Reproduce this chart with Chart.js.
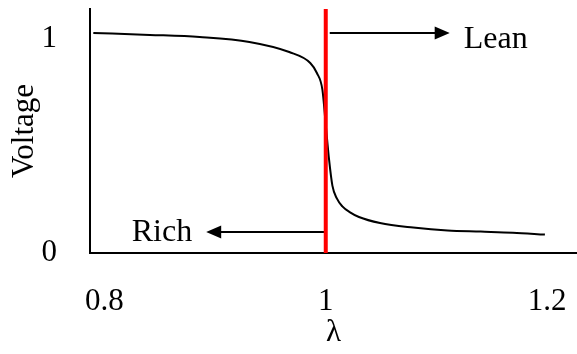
<!DOCTYPE html>
<html>
<head>
<meta charset="utf-8">
<script src="https://cdn.jsdelivr.net/npm/chart.js@4.4.1/dist/chart.umd.min.js"></script>
<style>
  html, body { margin: 0; padding: 0; background: #fff; }
  #wrap { width: 577px; height: 354px; }
</style>
</head>
<body>
<div id="wrap"><canvas id="grafico" width="577" height="354"></canvas></div>
<script>
// curve
const lambdaValues = [0.79, 0.841, 0.886, 0.931, 0.967, 0.986, 0.992, 0.997, 1.0, 1.003, 1.006, 1.01, 1.015, 1.022, 1.03, 1.049, 1.079, 1.11, 1.14, 1.169, 1.198];
const voltageValues = [1.028, 1.019, 1.009, 0.986, 0.939, 0.888, 0.841, 0.762, 0.599, 0.436, 0.315, 0.255, 0.218, 0.19, 0.168, 0.14, 0.119, 0.105, 0.1, 0.095, 0.086];

// stoichiometric line
const stoichX = [1, 1];
const stoichY = [0, 1.14];

// ticks
const xTicks = [0.8, 1, 1.2];
const yTicks = [0, 1];

// arrows and their labels
const arrowLabels = ["Lean", "Rich"];
const arrowStartX = [1.0036, 1.0];
const arrowEndX = [1.112, 0.892];
const arrowY = [1.03, 0.097];
const labelBaseY = [0.958, 0.054];

const FONT = '"Liberation Serif", "Times New Roman", serif';
const SIZE = 31;

const flechas = {
  id: "flechas",
  beforeDatasetsDraw(chart) {
    const { ctx, scales: { x, y } } = chart;
    arrowLabels.forEach((label, i) => {
      const x0 = x.getPixelForValue(arrowStartX[i]);
      const x1 = x.getPixelForValue(arrowEndX[i]);
      const yy = Math.round(y.getPixelForValue(arrowY[i]));
      const dir = Math.sign(x1 - x0);
      ctx.save();
      ctx.strokeStyle = "#000";
      ctx.fillStyle = "#000";
      ctx.lineWidth = 2;
      ctx.beginPath();
      ctx.moveTo(x0, yy);
      ctx.lineTo(x1 - dir * 12, yy);
      ctx.stroke();
      ctx.beginPath();
      ctx.moveTo(x1, yy);
      ctx.lineTo(x1 - dir * 15, yy - 6.5);
      ctx.lineTo(x1 - dir * 15, yy + 6.5);
      ctx.closePath();
      ctx.fill();
      ctx.font = "32px " + FONT;
      ctx.textBaseline = "alphabetic";
      ctx.textAlign = dir > 0 ? "left" : "right";
      ctx.fillText(label, x1 + dir * 14, y.getPixelForValue(labelBaseY[i]));
      ctx.restore();
    });
  }
};

new Chart(document.getElementById("grafico"), {
  type: "line",
  data: {
    datasets: [
      {
        data: stoichX.map((v, i) => ({ x: v, y: stoichY[i] })),
        borderColor: "#ff0000",
        borderWidth: 4,
        pointRadius: 0,
        order: 0
      },
      {
        data: lambdaValues.map((v, i) => ({ x: v, y: voltageValues[i] })),
        borderColor: "#000",
        borderWidth: 2,
        pointRadius: 0,
        cubicInterpolationMode: "monotone",
        order: 1
      }
    ]
  },
  options: {
    responsive: false,
    animation: false,
    layout: { padding: { top: 9, left: 0, right: 0, bottom: 0 } },
    plugins: {
      legend: { display: false },
      tooltip: { enabled: false }
    },
    scales: {
      x: {
        type: "linear",
        min: 0.787,
        max: 1.227,
        afterFit: s => { s.height = 101; s.paddingLeft = 0; s.paddingRight = 0; },
        afterBuildTicks: s => { s.ticks = xTicks.map(v => ({ value: v })); },
        grid: { display: false, drawTicks: false },
        border: { color: "#000", width: 2 },
        ticks: {
          color: "#000",
          font: { family: FONT, size: SIZE },
          padding: 30,
          maxRotation: 0,
          callback: v => v.toString()
        },
        title: {
          display: true,
          text: "λ",
          color: "#000",
          font: { family: FONT, size: SIZE },
          padding: { top: 0, bottom: 3 }
        }
      },
      y: {
        type: "linear",
        min: 0,
        max: 1.14,
        afterFit: s => { s.width = 90; s.paddingTop = 0; s.paddingBottom = 0; },
        afterBuildTicks: s => { s.ticks = yTicks.map(v => ({ value: v })); },
        grid: { display: false, drawTicks: false },
        border: { color: "#000", width: 2 },
        ticks: {
          color: "#000",
          font: { family: FONT, size: SIZE },
          padding: 33,
          callback: v => v.toString()
        },
        title: {
          display: true,
          text: "Voltage",
          color: "#000",
          font: { family: FONT, size: SIZE },
          padding: { top: 6, bottom: 0 }
        }
      }
    }
  },
  plugins: [flechas]
});
</script>
</body>
</html>
